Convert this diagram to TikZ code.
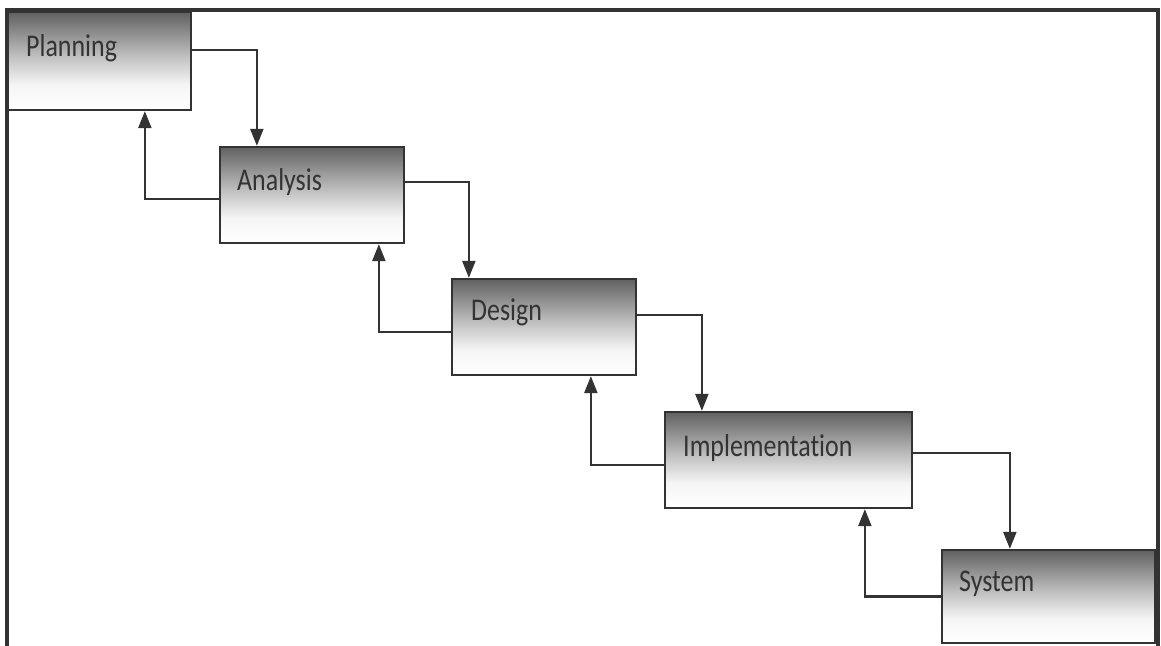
\documentclass[tikz,border=0pt]{standalone}
\usepackage{fontspec}
\setmainfont[FakeStretch=0.82,Ligatures=NoCommon]{Carlito}
\usetikzlibrary{arrows.meta,positioning}
\pgfdeclareverticalshading{stagefade}{100bp}{color(0bp)=(white); color(25bp)=(white);
  color(38bp)=(black!4); color(52bp)=(black!24); color(75bp)=(black!62); color(100bp)=(black!62)}
\tikzset{
  stage/.style={rectangle, draw=black!80, line width=1.3pt, inner sep=0pt,
                minimum width=3.68cm, minimum height=1.92cm, shading=stagefade},
  txt/.style={anchor=base west, inner sep=0pt, text=black!80,
              font=\fontsize{18}{20}\selectfont},
  ed/.style={-{Triangle[length=3.4mm,width=2.6mm]}, line width=1.3pt, draw=black!80}
}

\begin{document}
\begin{tikzpicture}
\useasboundingbox (0,0) rectangle (23.22,12.9);
% frame round the figure
\draw[black!80, line width=2pt] (0.14,-0.2) -- (0.14,12.7) -- (23.16,12.7) -- (23.16,-0.2);
% stages
\node[stage, minimum width=3.66cm, minimum height=1.96cm] (plan) at (1.99,11.68) {};
\node[stage] (ana) at (6.24,9.0) {};
\node[stage] (des) at (10.88,6.36) {};
\node[stage, minimum width=4.94cm] (impl) at (15.77,3.70) {};
\node[stage, minimum width=4.26cm, minimum height=1.86cm] (sys) at (20.97,0.97) {};
\node[txt] (planT) at ([xshift=3.8mm,yshift=-9.2mm]plan.north west) {Planning};
\node[txt] (anaT) at ([xshift=3.6mm,yshift=-9mm]ana.north west) {Analysis};
\node[txt] (desT) at ([xshift=4mm,yshift=-8.6mm]des.north west) {Design};
\node[txt] (implT) at ([xshift=3.8mm,yshift=-9.2mm]impl.north west) {Implementation};
\node[txt] (sysT) at ([xshift=3.6mm,yshift=-8.6mm]sys.north west) {System};
% forward
\draw[ed] ([yshift=2.2mm]plan.east) -| ([xshift=7.6mm]ana.north west);
\draw[ed] ([yshift=2.6mm]ana.east) -| ([xshift=3.6mm]des.north west);
\draw[ed] ([yshift=2.4mm]des.east) -| ([xshift=7.6mm]impl.north west);
\draw[ed] ([yshift=1.4mm]impl.east) -| ([xshift=13.8mm]sys.north west);
% back
\draw[ed] ([yshift=-0.8mm]ana.west) -| ([xshift=27.6mm]plan.south west);
\draw[ed] ([yshift=-1mm]des.west) -| ([xshift=32mm]ana.south west);
\draw[ed] ([yshift=-1mm]impl.west) -| ([xshift=28mm]des.south west);
\draw[ed] (sys.west) -| ([xshift=40.2mm]impl.south west);
\end{tikzpicture}
\end{document}
